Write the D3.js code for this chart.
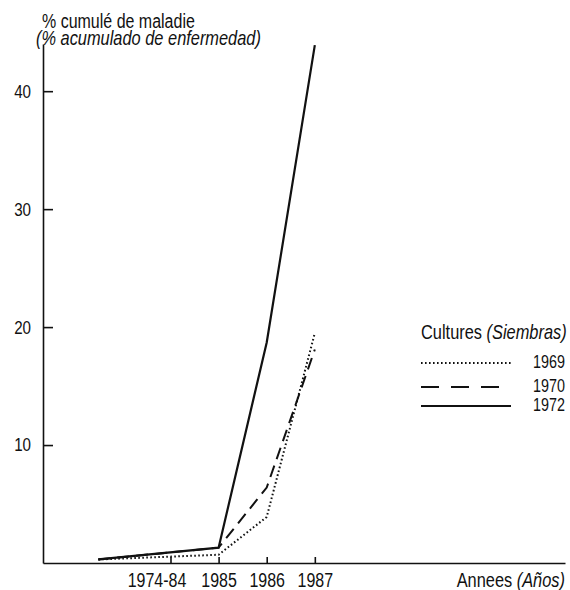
<!DOCTYPE html>
<html lang="fr">
<head>
    <meta charset="UTF-8">
    <title>% cumulé de maladie</title>
    <script src="https://d3js.org/d3.v7.min.js"></script>
    <style>
        body {
            margin: 0;
            background: #fff;
        }
        svg text {
            font-family: "Liberation Sans", Arial, Helvetica, sans-serif;
            fill: #111;
        }
        .axis path, .axis line {
            stroke: #111;
            stroke-width: 1.6px;
        }
    </style>
</head>
<body>
    <div id="chart"></div>
    <script>
        // années (position sur l'axe) et libellés des graduations
        const tickYears = [1984, 1985, 1986, 1987];
        const tickLabels = ["1974-84", "1985", "1986", "1987"];
        const yTicks = [10, 20, 30, 40];

        // points mesurés
        const pointYears = [1982.5, 1985, 1986, 1987];
        const values1969 = [0.3, 0.7, 3.9, 19.5];
        const values1970 = [0.3, 1.3, 6.4, 18.1];
        const values1972 = [0.3, 1.3, 18.7, 43.9];

        const seriesNames = ["1969", "1970", "1972"];
        const seriesValues = [values1969, values1970, values1972];
        const seriesDash = ["1.6,2.4", "12,7", null];

        const width = 570;
        const height = 590;
        const K = 0.82; // compression horizontale (police étroite)

        const svg = d3.select("#chart")
            .append("svg")
            .attr("width", width)
            .attr("height", height);

        // texte étroit : Liberation Sans resserré
        function narrowText(parent, x, y, size) {
            return parent.append("text")
                .attr("transform", `translate(${x},${y}) scale(${K},1)`)
                .style("font-size", size + "px");
        }

        const x = d3.scaleLinear()
            .domain([1981.35, 1992.2])
            .range([43, 565]);

        const y = d3.scaleLinear()
            .domain([0, 44])
            .range([563, 44]);

        // axe Y
        const yAxis = svg.append("g")
            .attr("class", "axis")
            .attr("transform", `translate(${x.range()[0]},0)`)
            .call(d3.axisLeft(y)
                .tickValues(yTicks)
                .tickSizeInner(-10)
                .tickSizeOuter(0)
                .tickPadding(14.6));
        yAxis.selectAll("text")
            .attr("transform", `scale(${K},1)`)
            .style("font-size", "18.5px");

        // axe X
        const xAxis = svg.append("g")
            .attr("class", "axis")
            .attr("transform", `translate(0,${y(0)})`)
            .call(d3.axisBottom(x)
                .tickValues(tickYears)
                .tickFormat((d, i) => tickLabels[i])
                .tickSizeInner(-6)
                .tickSizeOuter(0)
                .tickPadding(10));
        xAxis.selectAll("text")
            .attr("transform", `scale(${K},1)`)
            .style("font-size", "19.5px");
        // le libellé "1974-84" est décalé vers la gauche
        xAxis.selectAll(".tick text")
            .filter((d, i) => i === 0)
            .attr("dx", -14 / K);

        // courbes
        const line = d3.line()
            .x((d, i) => x(pointYears[i]))
            .y(d => y(d));

        seriesValues.forEach((vals, k) => {
            svg.append("path")
                .datum(vals)
                .attr("d", line)
                .attr("fill", "none")
                .attr("stroke", "#111")
                .attr("stroke-width", k === 2 ? 2.2 : 2)
                .attr("stroke-dasharray", seriesDash[k]);
        });

        // titre de l'axe Y
        narrowText(svg, 42, 28, 19.5).text("% cumulé de maladie");
        narrowText(svg, 36, 45, 20)
            .style("font-style", "italic")
            .text("(% acumulado de enfermedad)");

        // titre de l'axe X
        const xTitle = narrowText(svg, 565, 587, 20)
            .attr("text-anchor", "end");
        xTitle.append("tspan").text("Annees ");
        xTitle.append("tspan").style("font-style", "italic").text("(Años)");

        // légende
        const legend = svg.append("g");
        const legTitle = narrowText(legend, 421, 339, 20);
        legTitle.append("tspan").text("Cultures ");
        legTitle.append("tspan").style("font-style", "italic").text("(Siembras)");

        const legendY = [363, 387, 406];
        const legendDash = ["1.6,2.4", "18,12", null];
        seriesNames.forEach((name, k) => {
            legend.append("line")
                .attr("x1", 421)
                .attr("x2", 511)
                .attr("y1", legendY[k])
                .attr("y2", legendY[k])
                .attr("stroke", "#111")
                .attr("stroke-width", 2)
                .attr("stroke-dasharray", legendDash[k]);
            narrowText(legend, 565, legendY[k] + 5, 17.5)
                .attr("text-anchor", "end")
                .text(name);
        });
    </script>
</body>
</html>
